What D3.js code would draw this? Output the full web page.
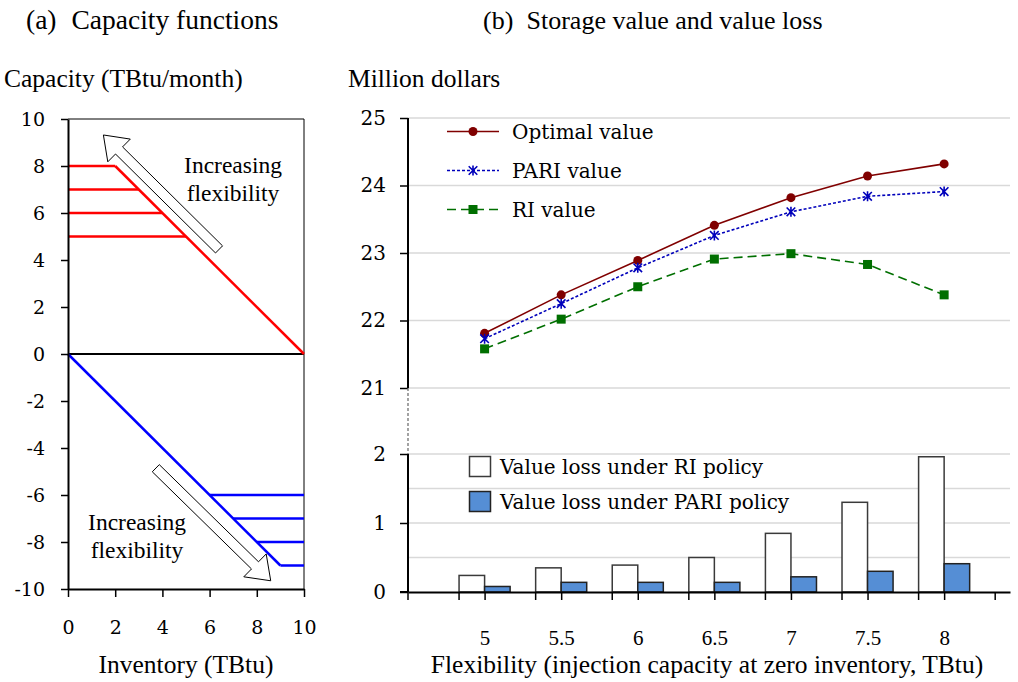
<!DOCTYPE html>
<html>
<head>
<meta charset="utf-8">
<script src="https://cdn.jsdelivr.net/npm/d3@7"></script>
<style>
  body { margin: 0; background: #fff; }
</style>
</head>
<body>
<svg id="chart" width="1018" height="682"></svg>
<script>
// ---- panel (a): capacity functions
const inventoryTicks = [0, 2, 4, 6, 8, 10];
const capacityTicks = [-10, -8, -6, -4, -2, 0, 2, 4, 6, 8, 10];
const maxInventory = 10;
const injectionCaps = [8, 7, 6, 5];
const withdrawalCaps = [-6, -7, -8, -9];
// arrows: [tail, tip] in (inventory, capacity) units
const arrowUp = [[6.4, 4.45], [1.5, 9.32]];
const arrowDown = [[3.72, -4.86], [8.59, -9.65]];

// ---- panel (b): storage value and value loss
const flexibility = [5, 5.5, 6, 6.5, 7, 7.5, 8];
const flexLabels = ['5', '5.5', '6', '6.5', '7', '7.5', '8'];
const optimalValue = [21.81, 22.38, 22.89, 23.41, 23.82, 24.14, 24.32];
const pariValue = [21.73, 22.25, 22.78, 23.26, 23.61, 23.84, 23.91];
const riValue = [21.58, 22.02, 22.50, 22.91, 22.99, 22.83, 22.38];
const lossRI = [0.24, 0.35, 0.39, 0.50, 0.85, 1.30, 1.96];
const lossPARI = [0.08, 0.14, 0.14, 0.14, 0.22, 0.30, 0.41];
const valueTicks = [21, 22, 23, 24, 25];
const lossTicks = [0, 1, 2];
const lossGrid = [0.5, 1, 1.5, 2];

const times = "'Liberation Serif', 'Times New Roman', serif";
const cambria = "'DejaVu Serif', serif";
const plain = d => String(d); // hyphen minus, no decimals

const svg = d3.select('#chart');

// ================= panel (a)
const xA = d3.scaleLinear().domain([0, 10]).range([68, 304]);
const yA = d3.scaleLinear().domain([-10, 10]).range([589, 119]);
const lineA = d3.line().x(d => xA(d[0])).y(d => yA(d[1]));

// thin frame top/right
svg.append('path')
  .attr('d', `M${xA(0)},${yA(10)}H${xA(10)}V${yA(-10)}`)
  .attr('fill', 'none').attr('stroke', '#000').attr('stroke-width', 1);

// zero line
svg.append('line')
  .attr('x1', xA(0)).attr('x2', xA(10))
  .attr('y1', yA(0)).attr('y2', yA(0))
  .attr('stroke', '#000').attr('stroke-width', 2);

// injection (red)
const topCap = d3.max(injectionCaps);
injectionCaps.forEach(c => {
  svg.append('path').attr('d', lineA([[0, c], [maxInventory - c, c]]))
    .attr('stroke', '#ff0000').attr('stroke-width', 2.5).attr('fill', 'none');
});
svg.append('path').attr('d', lineA([[maxInventory - topCap, topCap], [maxInventory, 0]]))
  .attr('stroke', '#ff0000').attr('stroke-width', 2.5).attr('fill', 'none');

// withdrawal (blue)
const lowCap = d3.min(withdrawalCaps);
withdrawalCaps.forEach(c => {
  svg.append('path').attr('d', lineA([[-c, c], [maxInventory, c]]))
    .attr('stroke', '#0000ff').attr('stroke-width', 2.5).attr('fill', 'none');
});
svg.append('path').attr('d', lineA([[0, 0], [-lowCap, lowCap]]))
  .attr('stroke', '#0000ff').attr('stroke-width', 2.5).attr('fill', 'none');

// block arrows
function blockArrow(a) {
  const t = [xA(a[0][0]), yA(a[0][1])];
  const p = [xA(a[1][0]), yA(a[1][1])];
  const len = Math.hypot(p[0] - t[0], p[1] - t[1]);
  const u = [(p[0] - t[0]) / len, (p[1] - t[1]) / len];
  const n = [-u[1], u[0]];
  const sw = 5, hw = 16, hl = 22;
  const neck = [p[0] - u[0] * hl, p[1] - u[1] * hl];
  const pts = [
    [t[0] + n[0] * sw, t[1] + n[1] * sw],
    [neck[0] + n[0] * sw, neck[1] + n[1] * sw],
    [neck[0] + n[0] * hw, neck[1] + n[1] * hw],
    p,
    [neck[0] - n[0] * hw, neck[1] - n[1] * hw],
    [neck[0] - n[0] * sw, neck[1] - n[1] * sw],
    [t[0] - n[0] * sw, t[1] - n[1] * sw]
  ];
  svg.append('polygon')
    .attr('points', pts.map(q => q.join(',')).join(' '))
    .attr('fill', '#fff').attr('stroke', '#000').attr('stroke-width', 1);
}
blockArrow(arrowUp);
blockArrow(arrowDown);

function twoLines(cx, y1, y2) {
  svg.append('text').attr('x', cx).attr('y', y1).attr('text-anchor', 'middle')
    .attr('font-family', times).attr('font-size', 23.5).text('Increasing');
  svg.append('text').attr('x', cx).attr('y', y2).attr('text-anchor', 'middle')
    .attr('font-family', times).attr('font-size', 23.5).text('flexibility');
}
twoLines(233, 173, 201);
twoLines(137, 530, 558);

// axes (a)
const axA_y = svg.append('g')
  .attr('transform', `translate(${xA(0)},0)`)
  .call(d3.axisLeft(yA).tickValues(capacityTicks).tickFormat(plain)
    .tickSize(7).tickSizeOuter(0).tickPadding(16));
const axA_x = svg.append('g')
  .attr('transform', `translate(0,${yA(-10)})`)
  .call(d3.axisBottom(xA).tickValues(inventoryTicks).tickFormat(plain)
    .tickSize(8).tickSizeOuter(0).tickPadding(24));
[axA_y, axA_x].forEach(g => {
  g.select('.domain').attr('stroke-width', 2);
  g.selectAll('.tick line').attr('stroke-width', 1.5);
  g.selectAll('text').attr('font-family', cambria).attr('font-size', 19).attr('fill', '#000');
});

// ================= panel (b)
const xB = d3.scaleLinear().domain([4.5, 8.43]).range([408, 1010]);
const yTop = d3.scaleLinear().domain([21, 25]).range([388, 118]);
const yBot = d3.scaleLinear().domain([0, 2]).range([592, 454]);
const barW = xB(4.5 + 1 / 6) - xB(4.5);

// gridlines
valueTicks.forEach(v => {
  svg.append('line').attr('x1', xB(4.5)).attr('x2', xB(8.43))
    .attr('y1', yTop(v)).attr('y2', yTop(v))
    .attr('stroke', '#d9d9d9').attr('stroke-width', 1.5);
});
lossGrid.forEach(v => {
  svg.append('line').attr('x1', xB(4.5)).attr('x2', xB(8.43))
    .attr('y1', yBot(v)).attr('y2', yBot(v))
    .attr('stroke', '#d9d9d9').attr('stroke-width', 1.5);
});

// bars
svg.append('g').selectAll('rect').data(lossRI).join('rect')
  .attr('x', (d, i) => xB(flexibility[i]) - barW)
  .attr('y', d => yBot(d))
  .attr('width', barW)
  .attr('height', d => yBot(0) - yBot(d))
  .attr('fill', '#fff').attr('stroke', '#3a3a3a').attr('stroke-width', 1.5);
svg.append('g').selectAll('rect').data(lossPARI).join('rect')
  .attr('x', (d, i) => xB(flexibility[i]))
  .attr('y', d => yBot(d))
  .attr('width', barW)
  .attr('height', d => yBot(0) - yBot(d))
  .attr('fill', '#558ed5').attr('stroke', '#222').attr('stroke-width', 1.5);

// y axes with break
const axTop = svg.append('g').attr('transform', `translate(${xB(4.5)},0)`)
  .call(d3.axisLeft(yTop).tickValues(valueTicks).tickFormat(plain).tickSize(8).tickPadding(14));
const axBot = svg.append('g').attr('transform', `translate(${xB(4.5)},0)`)
  .call(d3.axisLeft(yBot).tickValues(lossTicks).tickFormat(plain).tickSize(8).tickPadding(14));
[axTop, axBot].forEach(g => {
  g.select('.domain').remove();
  g.selectAll('.tick line').attr('stroke-width', 1.5);
  g.selectAll('text').attr('font-family', cambria).attr('font-size', 20).attr('fill', '#000');
});
svg.append('line').attr('x1', xB(4.5)).attr('x2', xB(4.5))
  .attr('y1', yTop(25)).attr('y2', yTop(21)).attr('stroke', '#000').attr('stroke-width', 2);
svg.append('line').attr('x1', xB(4.5)).attr('x2', xB(4.5))
  .attr('y1', yTop(21)).attr('y2', yBot(2)).attr('stroke', '#666')
  .attr('stroke-width', 1.2).attr('stroke-dasharray', '3,2');
svg.append('line').attr('x1', xB(4.5)).attr('x2', xB(4.5))
  .attr('y1', yBot(2)).attr('y2', yBot(0)).attr('stroke', '#000').attr('stroke-width', 2);

// x axis
const minorTicks = [4.5].concat(flexibility.map(c => c - 1 / 6), [8.5 - 1 / 6]);
const axX = svg.append('g').attr('transform', `translate(0,${yBot(0)})`)
  .call(d3.axisBottom(xB).tickValues(flexibility).tickFormat((d, i) => flexLabels[i])
    .tickSize(8).tickSizeOuter(0).tickPadding(30));
axX.select('.domain').attr('stroke-width', 2);
axX.selectAll('.tick line').attr('stroke-width', 1.5);
axX.selectAll('text').attr('font-family', times).attr('font-size', 21).attr('fill', '#000');
svg.append('g').selectAll('line').data(minorTicks).join('line')
  .attr('x1', d => xB(d)).attr('x2', d => xB(d))
  .attr('y1', yBot(0)).attr('y2', yBot(0) + 8)
  .attr('stroke', '#000').attr('stroke-width', 1.5);
svg.append('line').attr('x1', xB(4.5) - 8).attr('x2', xB(4.5))
  .attr('y1', yBot(0)).attr('y2', yBot(0)).attr('stroke', '#000').attr('stroke-width', 2);

// value lines
const series = [
  { name: 'Optimal value', values: optimalValue, color: '#800000', dash: null, marker: 'circle' },
  { name: 'PARI value', values: pariValue, color: '#0000bb', dash: '3,2', marker: 'star' },
  { name: 'RI value', values: riValue, color: '#006f00', dash: '9,5', marker: 'square' }
];
const lineB = d3.line().x((d, i) => xB(flexibility[i])).y(d => yTop(d));

function drawMarker(g, type, x, y, color) {
  if (type === 'circle') {
    g.append('circle').attr('cx', x).attr('cy', y).attr('r', 4.5).attr('fill', color);
  } else if (type === 'square') {
    g.append('rect').attr('x', x - 4.5).attr('y', y - 4.5).attr('width', 9).attr('height', 9)
      .attr('fill', color);
  } else {
    g.append('path')
      .attr('d', `M${x},${y - 5}V${y + 5}M${x - 4.3},${y - 4.3}L${x + 4.3},${y + 4.3}M${x - 4.3},${y + 4.3}L${x + 4.3},${y - 4.3}`)
      .attr('stroke', color).attr('stroke-width', 1.6).attr('fill', 'none');
  }
}

series.forEach((s, k) => {
  const g = svg.append('g');
  g.append('path').attr('d', lineB(s.values))
    .attr('fill', 'none').attr('stroke', s.color).attr('stroke-width', 1.6)
    .attr('stroke-dasharray', s.dash);
  s.values.forEach((v, i) => drawMarker(g, s.marker, xB(flexibility[i]), yTop(v), s.color));

  // legend
  const ly = 131.5 + k * 39;
  g.append('line').attr('x1', 447).attr('x2', 499).attr('y1', ly).attr('y2', ly)
    .attr('stroke', s.color).attr('stroke-width', 1.6).attr('stroke-dasharray', s.dash);
  drawMarker(g, s.marker, 473, ly, s.color);
  g.append('text').attr('x', 512).attr('y', ly + 7)
    .attr('font-family', cambria).attr('font-size', 20).text(s.name);
});

// bar legend
const barLegend = [
  { name: 'Value loss under RI policy', fill: '#fff', stroke: '#3a3a3a' },
  { name: 'Value loss under PARI policy', fill: '#558ed5', stroke: '#222' }
];
barLegend.forEach((b, k) => {
  const ly = 466.5 + k * 35;
  svg.append('rect').attr('x', 469.5).attr('y', ly - 10).attr('width', 21).attr('height', 20)
    .attr('fill', b.fill).attr('stroke', b.stroke).attr('stroke-width', 1.5);
  svg.append('text').attr('x', 500).attr('y', ly + 7)
    .attr('font-family', cambria).attr('font-size', 20).text(b.name);
});

// titles and axis titles
function label(x, y, txt, anchor, size) {
  svg.append('text').attr('x', x).attr('y', y).attr('text-anchor', anchor || 'start')
    .attr('font-family', times).attr('font-size', size || 26).text(txt);
}
label(26, 29, '(a)', 'start', 27.5);
label(71.5, 29, 'Capacity functions', 'start', 27.5);
label(483, 29, '(b)');
label(526.5, 29, 'Storage value and value loss');
label(4, 87, 'Capacity (TBtu/month)', 'start', 25.5);
label(348, 87, 'Million dollars', 'start', 25.5);
label(186, 673, 'Inventory (TBtu)', 'middle', 25.5);
label(707, 673, 'Flexibility (injection capacity at zero inventory, TBtu)', 'middle', 25.5);
</script>
</body>
</html>
